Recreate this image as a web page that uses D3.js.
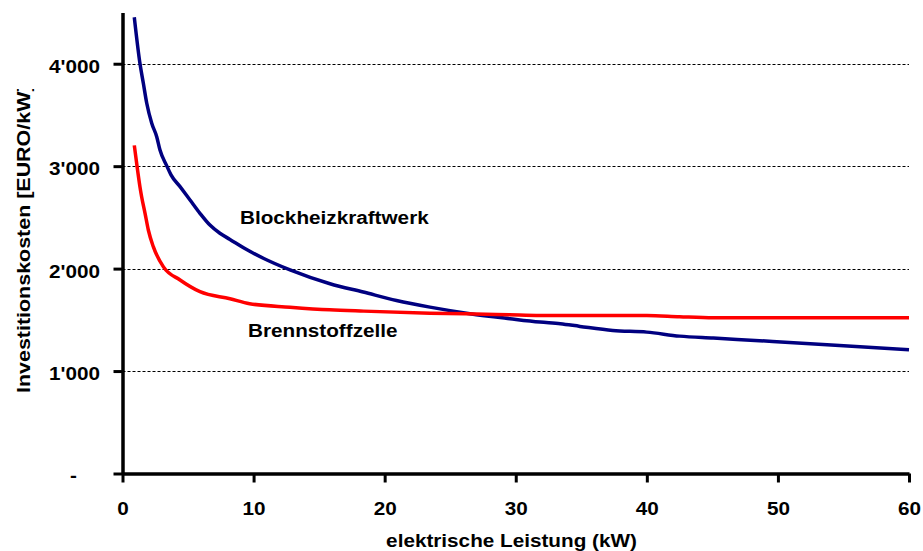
<!DOCTYPE html>
<html><head><meta charset="utf-8">
<script src="https://cdn.jsdelivr.net/npm/d3@7"></script>
<style>
body{margin:0;background:#fff}
text{font-family:Arial,"Liberation Sans",sans-serif;font-weight:bold;font-size:18.5px;fill:#000}
</style>
</head><body>
<svg id="c" width="923" height="551"></svg>
<script>
// Blockheizkraftwerk (kW, EURO/kW)
const bhkwX=[0.9,1.33,1.59,1.85,2.23,2.61,2.86,3.37,3.7,4.39,5.15,5.91,6.67,7.43,8.2,9.3,10.74,12.78,15.83,18.37,20.9,23.45,26.5,29.56,31.85,33.4,34.9,37.4,40,42.5,45.07,49.6,54.7,60];
const bhkwY=[4453,4004,3809,3614,3419,3288,3158,3005,2915,2800,2670,2540,2425,2345,2285,2198,2101,1987,1852,1771,1689,1624,1560,1511,1478,1462,1436,1396,1380,1341,1322,1289,1250,1208];
// Brennstoffzelle
const bzX=[0.9,1.08,1.33,1.46,1.72,1.97,2.35,3.11,4.39,5.91,8.2,9.7,12.78,15.8,18.4,23.45,28.5,29.5,31.85,40,42.5,45.07,60];
const bzY=[3203,3028,2800,2702,2540,2377,2214,2019,1889,1775,1706,1657,1624,1598,1585,1565,1553,1550,1543,1543,1530,1520,1520];

const xTicks=[0,10,20,30,40,50,60];
const yTicks=[0,1000,2000,3000,4000];
const yTickLabels=["-","1'000","2'000","3'000","4'000"];
const seriesNames=["Blockheizkraftwerk","Brennstoffzelle"];
const seriesColors=["#000080","#FF0000"];
const xTitle="elektrische Leistung (kW)";
const yTitle="Investitionskosten [EURO/kW]";

const SX=1.12;
const svg=d3.select("#c");
const x=d3.scaleLinear().domain([0,60]).range([122.5,909]);
const y=d3.scaleLinear().domain([0,4500]).range([473.5,12.5]);

// gridlines
svg.append("g").selectAll("line").data(yTicks.filter(d=>d>0)).join("line")
  .attr("x1",x(0)).attr("x2",x(60)).attr("y1",d=>Math.round(y(d))+0.5).attr("y2",d=>Math.round(y(d))+0.5)
  .attr("stroke","#000").attr("stroke-width",1).attr("stroke-dasharray","3,2");

// axes
const gx=svg.append("g").attr("transform",`translate(0,${y(0)})`)
  .call(d3.axisBottom(x).tickValues(xTicks).tickSize(9).tickSizeOuter(0).tickFormat(d3.format("d")));
const gy=svg.append("g").attr("transform",`translate(${x(0)},0)`)
  .call(d3.axisLeft(y).tickValues(yTicks).tickSize(9).tickSizeOuter(0).tickFormat((d,i)=>yTickLabels[i]));
[gx,gy].forEach(g=>{
  g.select(".domain").attr("stroke","#000").attr("stroke-width",3.5);
  g.selectAll(".tick line").attr("stroke","#000").attr("stroke-width",3);
  g.attr("font-size",null).attr("font-family",null);
});
gx.selectAll(".tick text").attr("y",null).attr("dy",null)
  .attr("transform","translate(0,41) scale("+SX+",1)");
gy.selectAll(".tick text").attr("x",null).attr("dy",null)
  .attr("transform",d=>`translate(${d===0?-45.5:-22.5},8.4) scale(${SX},1)`);

// lines
const line=d3.line().x(d=>x(d[0])).y(d=>y(d[1])).curve(d3.curveMonotoneX);
const series=[d3.zip(bhkwX,bhkwY),d3.zip(bzX,bzY)];
svg.append("g").selectAll("path").data(series).join("path")
  .attr("d",line).attr("fill","none")
  .attr("stroke",(d,i)=>seriesColors[i]).attr("stroke-width",3.5).attr("stroke-linejoin","round");

// series labels
svg.append("text").attr("transform",`translate(240,224) scale(${SX},1)`).text(seriesNames[0]);
svg.append("text").attr("transform",`translate(248,336.5) scale(${SX},1)`).text(seriesNames[1]);

// axis titles
svg.append("text").attr("text-anchor","middle")
  .attr("transform",`translate(511.5,547) scale(${SX},1)`).text(xTitle);
svg.append("clipPath").attr("id","yclip").append("rect").attr("x",0).attr("y",89).attr("width",60).attr("height",460);
svg.append("g").attr("clip-path","url(#yclip)").append("text")
  .attr("transform",`translate(30,393) rotate(-90) scale(1.16,1)`).text(yTitle);
</script>
</body></html>
